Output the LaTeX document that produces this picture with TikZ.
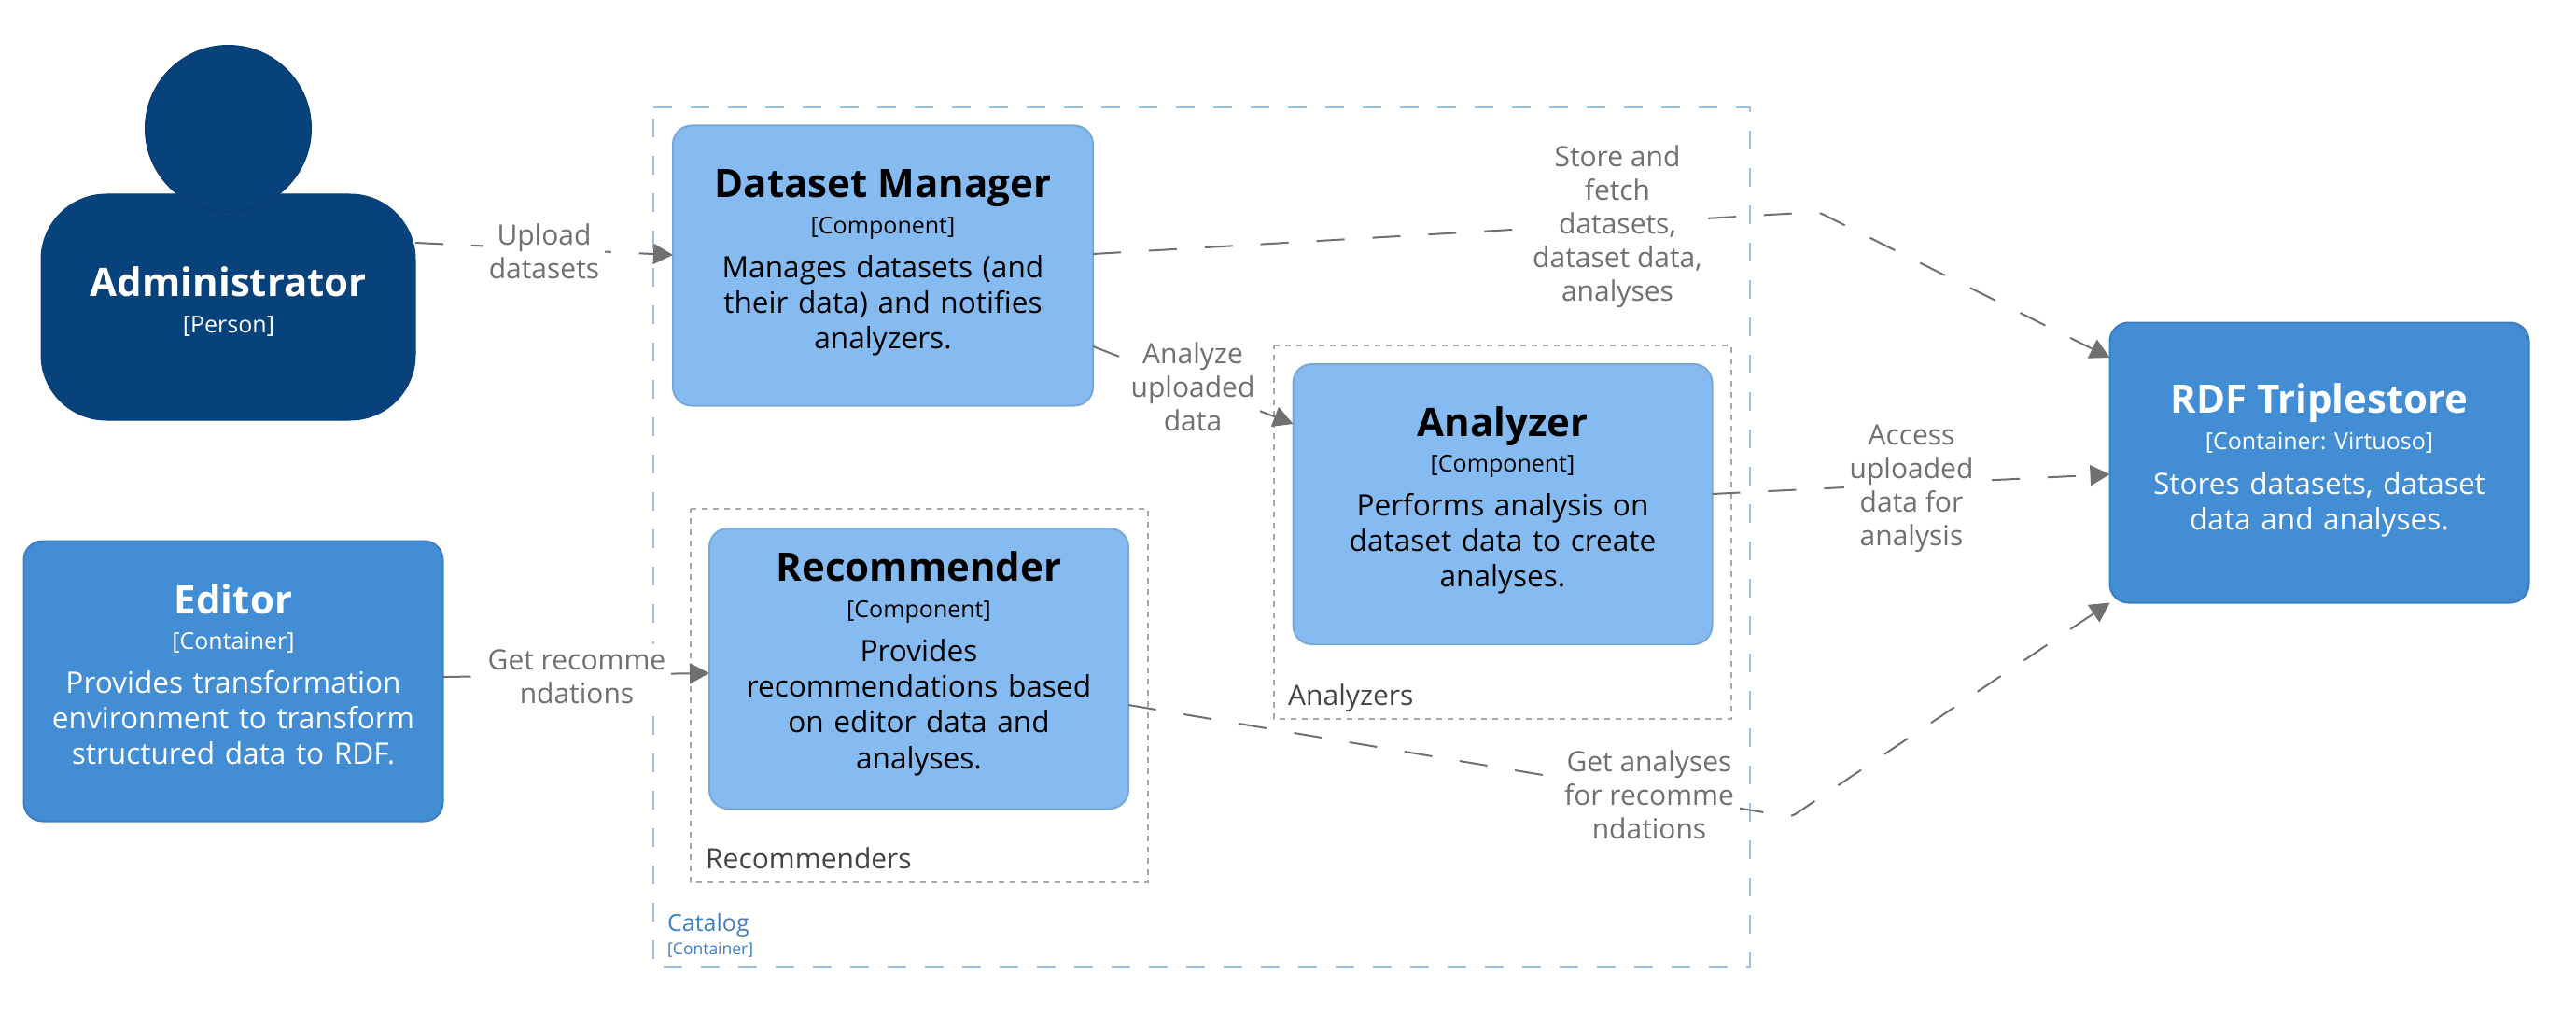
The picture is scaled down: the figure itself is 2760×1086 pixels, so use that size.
\documentclass[tikz,border=0pt]{standalone}
\usepackage{fontspec}
\setmainfont{Open Sans}
\usetikzlibrary{arrows.meta}
\definecolor{compfill}{HTML}{85BBF0}
\definecolor{compline}{HTML}{78A8D8}
\definecolor{contfill}{HTML}{438DD5}
\definecolor{contline}{HTML}{3C7FC0}
\definecolor{persfill}{HTML}{08427B}
\definecolor{persline}{HTML}{073B6F}
\definecolor{edgecol}{HTML}{707070}
\definecolor{bndcol}{HTML}{9DBFE3}
\definecolor{grpcol}{HTML}{A6A6A6}
\definecolor{grptext}{HTML}{444444}
\definecolor{catcol}{HTML}{3F7FC4}
\newcommand{\fs}[2]{\fontsize{#1}{#2}\selectfont}
\tikzset{
  boxbase/.style={rectangle,rounded corners=20pt,line width=2pt,inner sep=0pt,outer sep=0pt,minimum width=449pt,minimum height=300pt},
  comp/.style={boxbase,fill=compfill,draw=compline},
  cont/.style={boxbase,fill=contfill,draw=contline},
  titletxt/.style={inner sep=0pt,anchor=base,font=\bfseries\fs{42}{50}},
  tagtxt/.style={inner sep=0pt,anchor=base,font=\fs{25}{30}},
  desctxt/.style={inner sep=0pt,anchor=base,text width=440pt,align=center,font=\fs{31.6}{38.4}},
  edgelbl/.style={fill=white,inner sep=6pt,align=center,text=edgecol,font=\fs{30}{36}},
  rel/.style={draw=edgecol,line width=2pt,rounded corners=6pt,dash pattern=on 30pt off 30pt,-{Triangle[length=21pt,width=22pt]}},
  bnd/.style={draw=bndcol,line width=2.2pt,dash pattern=on 20pt off 20pt},
  grp/.style={draw=grpcol,line width=2pt,dash pattern=on 6pt off 6pt},
  grptxt/.style={inner sep=0pt,anchor=base west,text=grptext,font=\fs{30}{36}},
}
\begin{document}
\begin{tikzpicture}[x=1pt,y=-1pt]
\useasboundingbox (0,0) rectangle (2760,1086);
\fill[white] (0,0) rectangle (2760,1086);

% boundaries
\path[bnd] (700,115) -- (1875,115) -- (1875,1036) -- (700,1036) -- cycle;
\path[grp] (740,545) -- (1230,545) -- (1230,945) -- (740,945) -- cycle;
\path[grp] (1365,370) -- (1855,370) -- (1855,770) -- (1365,770) -- cycle;
\node[inner sep=0pt,anchor=base west,text=catcol,font=\fs{25}{30}] (catname) at (715,997) {Catalog};
\node[inner sep=0pt,anchor=base west,text=catcol,font=\fs{17.5}{22}] (cattag) at (715,1022) {[Container]};
\node[grptxt] (grprec) at (756,930) {Recommenders};
\node[grptxt] (grpana) at (1380,755) {Analyzers};

% person
\node[rectangle,rounded corners=70pt,fill=persfill,draw=persfill,line width=1pt,minimum width=401pt,minimum height=242pt,inner sep=0pt,outer sep=0pt] (admin) at (244.5,329) {};
\draw[persline,line width=1pt] (125,318) -- (125,450) (365,318) -- (365,450);
\node[circle,fill=persfill,draw=persline,line width=1pt,minimum size=178pt,inner sep=0pt,outer sep=0pt] (adminhead) at (244.5,137.5) {};
\node[titletxt,text=white] (admint) at (245,317) {Administrator};
\node[tagtxt,text=white] (admintag) at (245,356) {[Person]};

% boxes
\node[cont] (editor) at (250,729.5) {};
\node[titletxt,text=white] (editort) at (250,657) {Editor};
\node[tagtxt,text=white] (editortag) at (250,695.5) {[Container]};
\node[desctxt,text=white] (editord) at (250,742) {Provides transformation\\environment to transform\\structured data to RDF.};

\node[comp,minimum width=450pt] (dsm) at (946,284.5) {};
\node[titletxt] (dsmt) at (946,212) {Dataset Manager};
\node[tagtxt] (dsmtag) at (946,250.5) {[Component]};
\node[desctxt] (dsmd) at (946,297) {Manages datasets (and\\their data) and notifies\\analyzers.};

\node[comp] (rec) at (984.5,716) {};
\node[titletxt] (rect) at (984.5,622) {Recommender};
\node[tagtxt] (rectag) at (984.5,661.5) {[Component]};
\node[desctxt] (recd) at (984.5,708) {Provides\\recommendations based\\on editor data and\\analyses.};

\node[comp] (ana) at (1610,540) {};
\node[titletxt] (anat) at (1610,467) {Analyzer};
\node[tagtxt] (anatag) at (1610,505.5) {[Component]};
\node[desctxt] (anad) at (1610,552) {Performs analysis on\\dataset data to create\\analyses.};

\node[cont] (rdf) at (2485,495.5) {};
\node[titletxt,text=white] (rdft) at (2485,442) {RDF Triplestore};
\node[tagtxt,text=white] (rdftag) at (2485,481.5) {[Container: Virtuoso]};
\node[desctxt,text=white] (rdfd) at (2485,529) {Stores datasets, dataset\\data and analyses.};

% connectors
\coordinate (bendstore) at (1948,227);
\coordinate (bendget) at (1919,875);
\draw[rel] ([yshift=69pt]admin.east) -- ([yshift=11.5pt]dsm.west);
\draw[rel] ([yshift=12.5pt]dsm.east) -- (bendstore) -- ([yshift=112.5pt]rdf.west);
\draw[rel] ([yshift=-86.5pt]dsm.east) -- ([yshift=86pt]ana.west);
\draw[rel] ([yshift=11pt]ana.east) -- ([yshift=-12.5pt]rdf.west);
\draw[rel] ([yshift=4.5pt]editor.east) -- ([yshift=-5pt]rec.west);
\draw[rel] ([yshift=-39pt]rec.east) -- (bendget) -- (rdf.south west);

% labels
\node[edgelbl] (l1) at (583,269) {Upload\\datasets};
\node[edgelbl] (l2) at (1733,243) {Store and\\fetch\\datasets,\\dataset data,\\analyses};
\node[edgelbl] (l3) at (1278,414) {Analyze\\uploaded\\data};
\node[edgelbl] (l4) at (2048,523) {Access\\uploaded\\data for\\analysis};
\node[edgelbl] (l5) at (618,725) {Get recomme\\ndations};
\node[edgelbl] (l6) at (1767,851) {Get analyses\\for recomme\\ndations};
\end{tikzpicture}
\end{document}
